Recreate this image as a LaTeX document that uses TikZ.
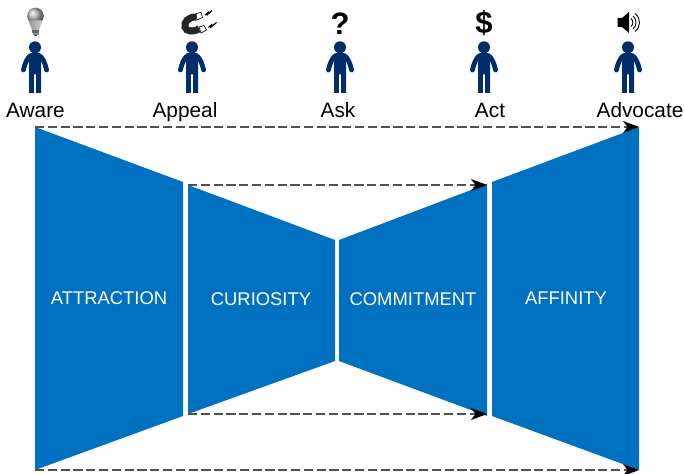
\documentclass[tikz,border=0pt]{standalone}
\usepackage{fontspec}
\setmainfont{Liberation Sans}
\usetikzlibrary{arrows.meta}
\definecolor{funnelblue}{HTML}{0070C0}
\definecolor{personblue}{HTML}{002E6B}
\definecolor{dashgray}{HTML}{505050}
\tikzset{
  funnel/.style={fill=funnelblue,draw=none},
  stagelabel/.style={text=black,font=\fontsize{20.8}{24}\selectfont,inner sep=0pt,anchor=base},
  funneltext/.style={text=white,font=\fontsize{18.4}{22}\selectfont,inner sep=0pt},
  iconglyph/.style={text=black,font=\fontsize{31}{34}\selectfont\bfseries,inner sep=0pt},
  flow/.style={draw=dashgray,line width=1.4pt,dash pattern=on 9.2pt off 3.6pt,-{Stealth[length=16pt,width=12pt,inset=4.5pt,black]}},
  person/.pic={
    \fill[personblue] (0,-45.7) circle (6);
    \fill[personblue] (-6,-36) .. controls (-6,-39.5) and (-3.5,-40.7) .. (0,-40.7)
      .. controls (3.5,-40.7) and (6,-39.5) .. (6,-36) -- (6,0) -- (1.2,0) -- (1.2,-18.5) -- (-1.2,-18.5) -- (-1.2,0) -- (-6,0) -- cycle;
    \draw[personblue,line width=4.8pt,line cap=round] (-4,-37.5) .. controls (-7.5,-36) and (-10,-30) .. (-11.6,-23);
    \draw[personblue,line width=4.8pt,line cap=round] (4,-37.5) .. controls (7.5,-36) and (10,-30) .. (11.6,-23);
  },
}
\begin{document}
\begin{tikzpicture}[x=1pt,y=-1pt]
\useasboundingbox (0,0) rectangle (684,473);
% funnel panels
\fill[funnel] (35,127) -- (183,182) -- (183,416) -- (35,470) -- cycle;
\fill[funnel] (188,185) -- (335,240) -- (335,361) -- (188,414) -- cycle;
\fill[funnel] (339,240) -- (487,184) -- (487,416) -- (339,361) -- cycle;
\fill[funnel] (492,182) -- (639,127) -- (639,470) -- (492,416) -- cycle;
\node[funneltext] (t1) at (109,298) {ATTRACTION};
\node[funneltext] (t2) at (261,299) {CURIOSITY};
\node[funneltext] (t3) at (413,299) {COMMITMENT};
\node[funneltext] (t4) at (566,298) {AFFINITY};
% people
\pic at (35,93) {person};
\pic at (192,93) {person};
\pic at (340,93) {person};
\pic at (484,93) {person};
\pic at (628,93) {person};
% stage labels
\node[stagelabel] (aware) at (35.5,117.5) {Aware};
\node[stagelabel] (appeal) at (185,117.5) {Appeal};
\node[stagelabel] (ask) at (338,117.5) {Ask};
\node[stagelabel] (act) at (490,117.5) {Act};
\node[stagelabel] (advocate) at (640,117.5) {Advocate};
% connectors
\coordinate (a1) at (35,127); \coordinate (a2) at (639,127);
\coordinate (b1) at (188,185); \coordinate (b2) at (487,185);
\coordinate (c1) at (188,414); \coordinate (c2) at (487,414);
\coordinate (d1) at (35,470); \coordinate (d2) at (639,470);
\draw[flow] (a1) -- (a2);
\draw[flow] (b1) -- (b2);
\draw[flow] (c1) -- (c2);
\draw[flow] (d1) -- (d2);
% bulb
\shade[ball color=gray!55] (35.5,16) circle (8.3);
\shade[left color=gray!80,right color=gray!40] (28.5,20.5) -- (42.5,20.5) -- (39,30) -- (32,30) -- cycle;
\fill[black!60] (32,30) rectangle (39,33);
\fill[black!45] (32.5,33) rectangle (38.5,35);
\fill[black!70] (34,35) rectangle (37,36.5);
% magnet
\draw[black!85,line width=7pt] (196,17) .. controls (188,17) and (184,22) .. (185,27) .. controls (186,32) and (194,32) .. (199,29);
\draw[black!85,fill=white,line width=.8pt] (196,13.5) -- (201,12.5) -- (202.5,17.5) -- (197,20) -- cycle;
\draw[black!85,fill=white,line width=.8pt] (199,27) -- (204,25.5) -- (206.5,30) -- (201,33) -- cycle;
\draw[black,line width=1.2pt] (205,15) -- (208,12.5) -- (207.5,14.5) -- (212,10.5);
\draw[black,line width=1.2pt] (208.5,27.5) -- (211.5,25) -- (211,27) -- (216.5,22.5);
% question mark, dollar
\node[iconglyph] (q) at (340,24) {?};
\node[iconglyph] (dollar) at (484,23) {\$};
% speaker
\fill[black] (617.5,18) -- (622,18) -- (629,12) -- (629,33) -- (622,27) -- (617.5,27) -- cycle;
\draw[black,line width=.9pt] (631,18.5) .. controls (633.5,20.5) and (633.5,24.5) .. (631,26.5);
\draw[black,line width=.9pt] (633,16) .. controls (637,19) and (637,26) .. (633,29);
\draw[black,line width=.9pt] (635,13.5) .. controls (641,18) and (641,27) .. (635,31.5);
\end{tikzpicture}
\end{document}
